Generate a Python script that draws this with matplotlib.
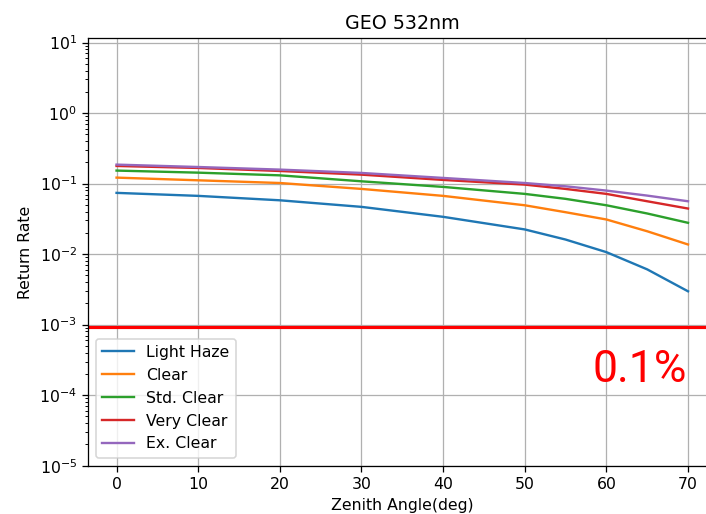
import numpy as np
import matplotlib
matplotlib.use('Agg')
import matplotlib.pyplot as plt

# zenith angle (deg)
angles = [0, 10, 20, 30, 40, 50, 55, 60, 65, 70]

# return rates
light_haze = [0.0739, 0.067, 0.058, 0.0468, 0.0338, 0.0224, 0.0161, 0.01067, 0.00608, 0.00297]
clear = [0.1216, 0.1114, 0.102, 0.0841, 0.067, 0.0493, 0.0393, 0.031, 0.0211, 0.0137]
std_clear = [0.153, 0.143, 0.131, 0.1078, 0.0898, 0.0715, 0.0608, 0.0493, 0.0377, 0.0278]
very_clear = [0.178, 0.1667, 0.151, 0.134, 0.1128, 0.0968, 0.0841, 0.0715, 0.0562, 0.0443]
ex_clear = [0.186, 0.172, 0.158, 0.1417, 0.1204, 0.102, 0.0916, 0.0796, 0.0676, 0.0562]

labels = ['Light Haze', 'Clear', 'Std. Clear', 'Very Clear', 'Ex. Clear']
threshold = 9.4e-4

dpi = 113.7
fig = plt.figure(figsize=(706 / dpi, 514 / dpi), dpi=dpi)
ax = fig.add_axes([0.1246, 0.094, 0.8904, 0.8315])

for series, lab in zip([light_haze, clear, std_clear, very_clear, ex_clear], labels):
    ax.plot(angles, series, label=lab)

ax.axhline(threshold, color='red', lw=2)
ax.text(69.9, 1.55e-4, '0.1%', color='red', fontsize=28.2, family='Roboto',
        ha='right', va='baseline')

ax.set_yscale('log')
ax.set_ylim(1e-5, 11.5)
ax.set_xlim(-3.5, 73.5)
ax.grid(True)
ax.set_title('GEO 532nm')
ax.set_xlabel('Zenith Angle(deg)')
ax.set_ylabel('Return Rate')
ax.legend(loc='lower left')

fig.savefig('out.png', dpi=dpi)
